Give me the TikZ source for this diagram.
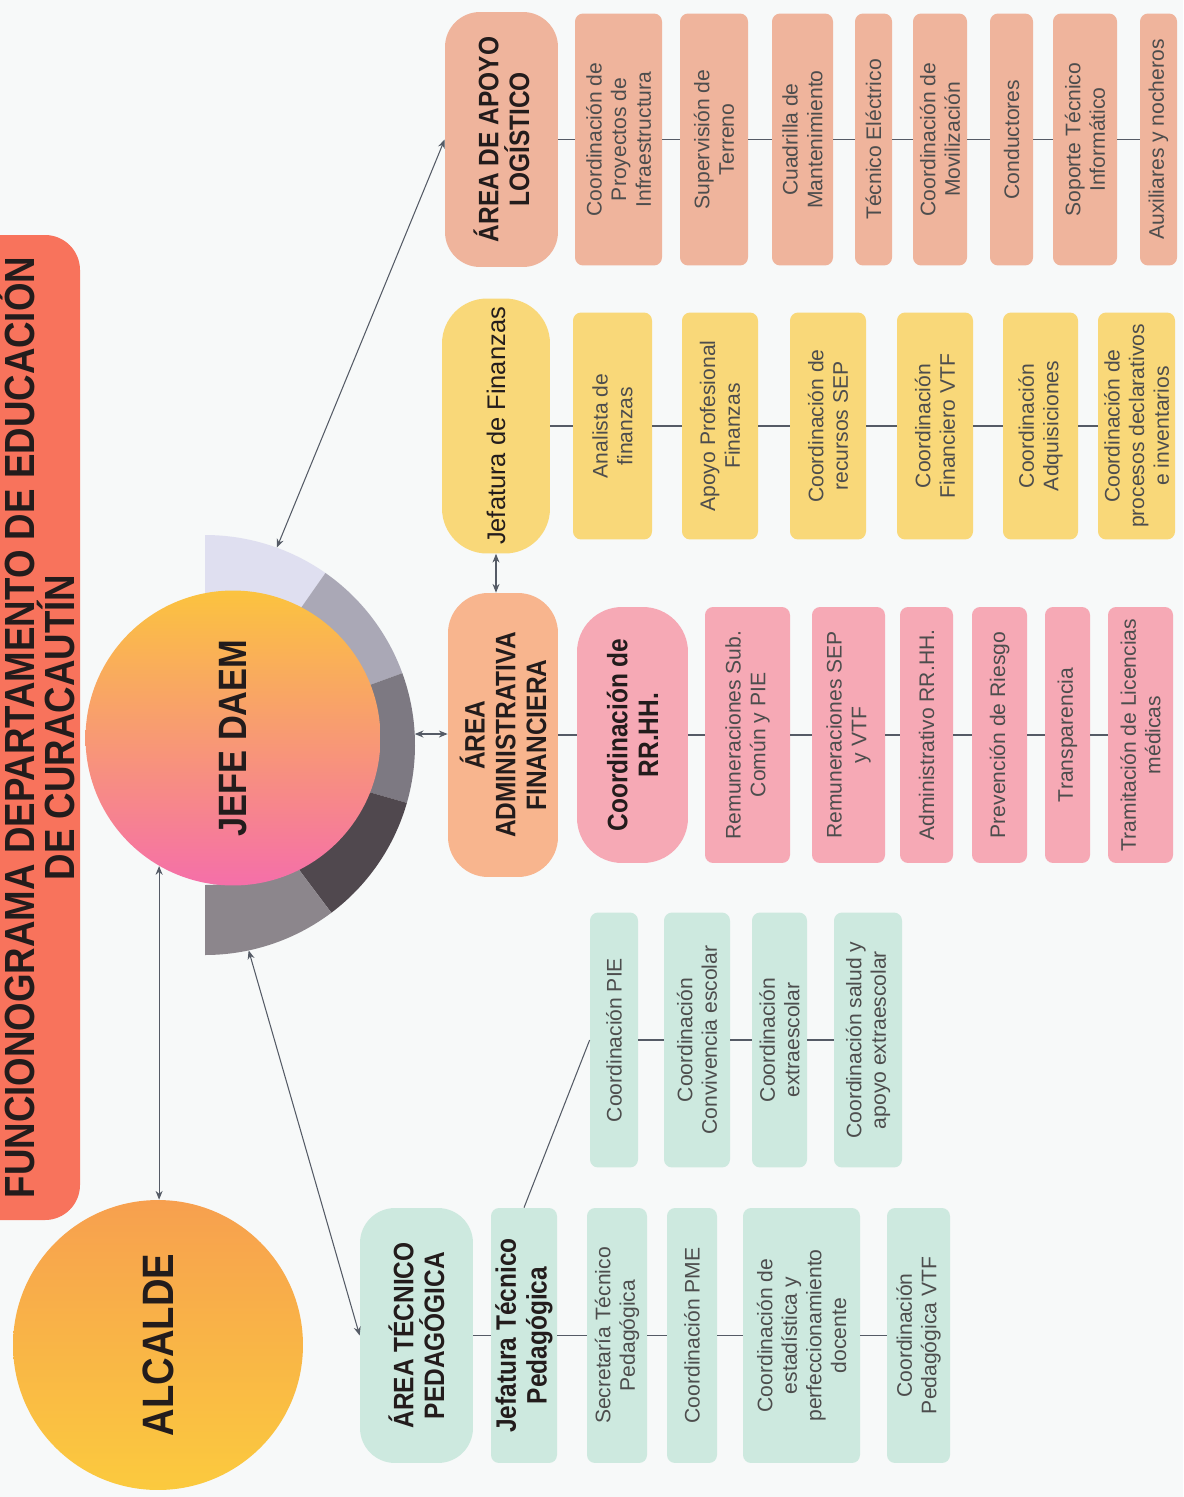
\documentclass[tikz,border=0pt]{standalone}
\usepackage{fontspec}
\setmainfont{Liberation Sans}
\newfontfamily\headfont[FakeStretch=0.87]{Liberation Sans}
\usetikzlibrary{arrows.meta,calc}

\definecolor{paper}{HTML}{F7F9F9}
\definecolor{titlecol}{HTML}{F8735C}
\definecolor{mint}{HTML}{CDE9DF}
\definecolor{peach}{HTML}{F8B58E}
\definecolor{rose}{HTML}{F6A9B5}
\definecolor{sun}{HTML}{F9D879}
\definecolor{salmon}{HTML}{EFB49C}
\definecolor{alcO}{HTML}{F7A04F}
\definecolor{alcY}{HTML}{FBCA3E}
\definecolor{jefeGold}{HTML}{FBC33F}
\definecolor{jefePink}{HTML}{F56FA9}
\definecolor{ringA}{HTML}{DFDFF0}
\definecolor{ringB}{HTML}{AAA8B6}
\definecolor{ringC}{HTML}{7D7982}
\definecolor{ringD}{HTML}{50484E}
\definecolor{ringE}{HTML}{8C868C}
\definecolor{itemtext}{HTML}{4D4D4D}
\definecolor{headtext}{HTML}{231C1C}
\definecolor{linecol}{HTML}{555B66}

\newcommand\itemfont{\fontsize{12}{14}\selectfont}
\newcommand\headsize{\headfont\bfseries\fontsize{16}{17.5}\selectfont}

\tikzset{
  item/.style={rectangle, rotate=90, rounded corners=0.16cm, align=center,
    inner sep=1pt, font=\itemfont, text=itemtext},
  head/.style={item, font=\headsize, text=headtext},
  mintbox/.style={item, fill=mint, minimum width=5.1cm},
  rosebox/.style={item, fill=rose, minimum width=5.12cm},
  sunbox/.style={item, fill=sun, minimum width=4.54cm},
  salmonbox/.style={item, fill=salmon, minimum width=5.04cm},
  bigdot/.style={circle, rotate=90, inner sep=0pt, text=headtext},
  link/.style={draw=linecol, line width=0.6pt},
  twoway/.style={link, {Stealth[length=5pt,width=4pt]}-{Stealth[length=5pt,width=4pt]}},
}

\begin{document}
\begin{tikzpicture}[x=0.02cm, y=0.02cm]
  \fill[paper] (0,0) rectangle (1183,-1497);
  \useasboundingbox (0,0) rectangle (1183,-1497);

  % title bar
  \fill[titlecol, rounded corners=0.7cm] (-40,-235) rectangle (80,-1220);
  \node[rotate=90, align=center, inner sep=0pt, text=headtext,
    font=\headfont\bfseries\fontsize{24}{22.7}\selectfont] (title) at (36,-727.5)
    {FUNCIONOGRAMA DEPARTAMENTO DE EDUCACIÓN\\DE CURACAUTÍN};

  % ring behind the chief
  \coordinate (ringc) at (205,-745);
  \foreach \s/\e/\c in {90/55/ringA, 55/20/ringB, 20/-16/ringC, -16/-53/ringD, -53/-90/ringE}
    \fill[\c] ($(ringc)+(\s:210)$) arc[start angle=\s, end angle=\e, radius=210]
      -- ($(ringc)+(\e:140)$) arc[start angle=\e, end angle=\s, radius=140] -- cycle;
  \coordinate (ringLog) at ($(ringc)+(70:210)$);
  \coordinate (ringAdm) at ($(ringc)+(3:210)$);
  \coordinate (ringTec) at ($(ringc)+(-78:210)$);

  \node[bigdot, minimum size=5.9cm, top color=jefeGold, bottom color=jefePink,
    font=\headfont\bfseries\fontsize{22.5}{24}\selectfont] (jefe) at (233,-738) {JEFE DAEM};
  \node[bigdot, minimum size=5.8cm, top color=alcO, bottom color=alcY,
    font=\headfont\bfseries\fontsize{25}{27}\selectfont] (alcalde) at (158,-1345) {ALCALDE};

  % area de apoyo logistico
  \node[head, fill=salmon, minimum width=5.1cm, minimum height=2.26cm, rounded corners=0.7cm]
    (areaLog) at (501.5,-139.5) {ÁREA DE APOYO\\LOGÍSTICO};
  \node[salmonbox, minimum height=1.74cm] (proy) at (618.5,-139.5) {Coordinación de\\Proyectos de\\Infraestructura};
  \node[salmonbox, minimum height=1.36cm] (superv) at (714,-139.5) {Supervisión de\\Terreno};
  \node[salmonbox, minimum height=1.22cm] (cuad) at (802.5,-139.5) {Cuadrilla de\\Mantenimiento};
  \node[salmonbox, minimum height=0.74cm] (tecElec) at (873.5,-139.5) {Técnico Eléctrico};
  \node[salmonbox, minimum height=1.08cm] (movil) at (940,-139.5) {Coordinación de\\Movilización};
  \node[salmonbox, minimum height=0.86cm] (cond) at (1011.5,-139.5) {Conductores};
  \node[salmonbox, minimum height=1.28cm] (soporte) at (1085,-139.5) {Soporte Técnico\\Informático};
  \node[salmonbox, minimum height=0.74cm] (aux) at (1158.5,-139.5) {Auxiliares y nocheros};

  % jefatura de finanzas
  \node[item, fill=sun, minimum width=5.1cm, minimum height=2.16cm, rounded corners=0.9cm,
    text=headtext, font=\fontsize{14.5}{17}\selectfont] (jefFin) at (496,-426) {Jefatura de Finanzas};
  \node[sunbox, minimum height=1.58cm] (analista) at (612.5,-426) {Analista de\\finanzas};
  \node[sunbox, minimum height=1.52cm] (apoyo) at (720,-426) {Apoyo Profesional\\Finanzas};
  \node[sunbox, minimum height=1.52cm] (recSep) at (828,-426) {Coordinación de\\recursos SEP};
  \node[sunbox, minimum height=1.52cm] (finVtf) at (935,-426) {Coordinación\\Financiero VTF};
  \node[sunbox, minimum height=1.5cm] (adq) at (1040.5,-426) {Coordinación\\Adquisiciones};
  \node[sunbox, minimum height=1.54cm] (procesos) at (1136.5,-426) {Coordinación de\\procesos declarativos\\e inventarios};

  % area administrativa financiera
  \node[head, fill=peach, minimum width=5.68cm, minimum height=2.2cm, rounded corners=0.8cm]
    (areaAdm) at (503,-735) {ÁREA\\ADMINISTRATIVA\\FINANCIERA};
  \node[head, fill=rose, minimum width=5.12cm, minimum height=2.22cm, rounded corners=0.9cm]
    (rrhh) at (632.5,-735) {Coordinación de\\RR.HH.};
  \node[rosebox, minimum height=1.7cm] (remSub) at (747.5,-735) {Remuneraciones Sub.\\Común y PIE};
  \node[rosebox, minimum height=1.46cm] (remSep) at (848.5,-735) {Remuneraciones SEP\\y VTF};
  \node[rosebox, minimum height=1.06cm] (admRrhh) at (926.5,-735) {Administrativo RR.HH.};
  \node[rosebox, minimum height=1.1cm] (prev) at (999.5,-735) {Prevención de Riesgo};
  \node[rosebox, minimum height=0.9cm] (transp) at (1067.5,-735) {Transparencia};
  \node[rosebox, minimum height=1.3cm] (tramit) at (1140.5,-735) {Tramitación de Licencias\\médicas};

  % area tecnico pedagogica
  \node[mintbox, minimum height=0.96cm] (pie) at (614,-1040) {Coordinación PIE};
  \node[mintbox, minimum height=1.32cm] (conv) at (697,-1040) {Coordinación\\Convivencia escolar};
  \node[mintbox, minimum height=1.1cm] (extra) at (779.5,-1040) {Coordinación\\extraescolar};
  \node[mintbox, minimum height=1.36cm] (salud) at (868,-1040) {Coordinación salud y\\apoyo extraescolar};

  \node[head, fill=mint, minimum width=5.1cm, minimum height=2.26cm, rounded corners=0.7cm]
    (areaTec) at (416.5,-1335.5) {ÁREA TÉCNICO\\PEDAGÓGICA};
  \node[head, fill=mint, minimum width=5.1cm, minimum height=1.32cm] (jefTec) at (524,-1335.5) {Jefatura Técnico\\Pedagógica};
  \node[mintbox, minimum height=1.2cm] (secTec) at (617,-1335.5) {Secretaría Técnico\\Pedagógica};
  \node[mintbox, minimum height=1cm] (pme) at (692,-1335.5) {Coordinación PME};
  \node[mintbox, minimum height=2.34cm] (estad) at (801.5,-1335.5) {Coordinación de\\estadística y\\perfeccionamiento\\docente};
  \node[mintbox, minimum height=1.26cm] (pedVtf) at (918.5,-1335.5) {Coordinación\\Pedagógica VTF};

  % chains
  \foreach \a/\b in {areaLog/proy, proy/superv, superv/cuad, cuad/tecElec, tecElec/movil,
      movil/cond, cond/soporte, soporte/aux,
      jefFin/analista, analista/apoyo, apoyo/recSep, recSep/finVtf, finVtf/adq, adq/procesos,
      areaAdm/rrhh, rrhh/remSub, remSub/remSep, remSep/admRrhh, admRrhh/prev, prev/transp, transp/tramit,
      pie/conv, conv/extra, extra/salud,
      areaTec/jefTec, jefTec/secTec, secTec/pme, pme/estad, estad/pedVtf}
    \draw[link] (\a) -- (\b);

  % links from the chief
  \draw[twoway] (ringLog) -- (areaLog.north);
  \draw[twoway] (ringAdm) -- (ringAdm -| areaAdm.north);
  \draw[twoway] (ringTec) -- (areaTec.north);
  \draw[twoway] (jefe.150) -- (jefe.150 |- alcalde.east);
  \draw[twoway] (jefFin.west) -- (jefFin.west |- areaAdm.east);
  \draw[link] (jefTec.east) -- (pie.north);
\end{tikzpicture}
\end{document}
